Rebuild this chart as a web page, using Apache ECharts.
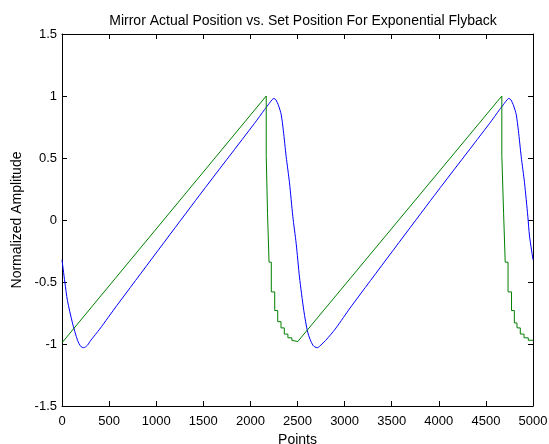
<!DOCTYPE html>
<html>
<head>
<meta charset="utf-8">
<script src="https://cdn.jsdelivr.net/npm/echarts@6/dist/echarts.min.js"></script>
<style>
html,body{margin:0;padding:0;background:#fff;}
#chart{width:549px;height:444px;}
</style>
</head>
<body>
<div id="chart"></div>
<script>
// Data: [point, normalized amplitude]
const actualPosition = [
  [0,-0.32],[30,-0.50],[58,-0.65],[111,-0.83],[165,-0.97],[200,-1.02],[230,-1.03],[270,-1.01],
  [306,-0.97],[400,-0.88],[582,-0.69],[1460,0.20],[2044,0.78],[2150,0.89],[2200,0.94],
  [2230,0.97],[2249,0.98],[2270,0.97],[2300,0.92],[2327,0.85],[2350,0.72],[2380,0.51],[2415,0.30],[2450,0.03],
  [2486,-0.19],[2521,-0.46],[2567,-0.73],[2610,-0.91],[2663,-1.01],[2709,-1.03],[2760,-1.00],
  [2800,-0.97],[2900,-0.88],[3077,-0.69],[3955,0.20],[4540,0.78],[4645,0.89],[4695,0.94],
  [4725,0.97],[4743,0.98],[4765,0.97],[4795,0.92],[4822,0.85],[4845,0.72],[4875,0.51],[4910,0.30],[4945,0.03],
  [4963,-0.13],[5000,-0.32]
];
const setPosition = [
  [0,-0.99],[2168,1.00],[2168,0.52],[2182,0.52],[2182,0.05],[2198,0.05],[2198,-0.34],
  [2222,-0.34],[2222,-0.58],[2258,-0.58],[2258,-0.73],[2290,-0.73],[2290,-0.82],[2325,-0.82],
  [2325,-0.87],[2360,-0.87],[2360,-0.92],[2398,-0.92],[2398,-0.95],[2440,-0.95],[2440,-0.97],
  [2503,-0.98],[2886,-0.63],[4669,1.00],[4669,0.52],[4688,0.52],[4688,0.05],[4705,0.05],
  [4705,-0.34],[4735,-0.34],[4735,-0.58],[4772,-0.58],[4772,-0.73],[4802,-0.73],[4802,-0.83],
  [4830,-0.83],[4830,-0.87],[4865,-0.87],[4865,-0.92],[4905,-0.92],[4905,-0.95],[4950,-0.95],
  [4950,-0.97],[5000,-0.97]
];
const xTicks = {min: 0, max: 5000, interval: 500};
const yTicks = {min: -1.5, max: 1.5, interval: 0.5};
const titleText = 'Mirror Actual Position vs. Set Position For Exponential Flyback';
const xLabel = 'Points';
const yLabel = 'Normalized Amplitude';

const font = "'Liberation Sans', Arial, Helvetica, sans-serif";
const chart = echarts.init(document.getElementById('chart'), null, {renderer: 'canvas'});
const lineStyle = {color: '#000', width: 1};
const tick = {show: true, inside: true, length: 5, lineStyle: {color: '#000', width: 1}};
const lbl = {color: '#000', fontSize: 13, fontFamily: font};
chart.setOption({
  animation: false,
  backgroundColor: '#fff',
  title: {
    text: titleText, left: 298, top: 9, textAlign: 'center',
    textStyle: {fontSize: 14, fontWeight: 'normal', color: '#000', fontFamily: font}
  },
  grid: {left: 62, right: 16, top: 34, bottom: 38, containLabel: false, outerBoundsMode: 'none'},
  xAxis: [
    {type: 'value', position: 'bottom', min: xTicks.min, max: xTicks.max, interval: xTicks.interval,
     name: xLabel, nameLocation: 'middle', nameGap: 25,
     nameTextStyle: {color: '#000', fontSize: 14, fontFamily: font},
     axisLine: {show: true, onZero: false, lineStyle: lineStyle}, axisTick: tick,
     axisLabel: Object.assign({margin: 9, formatter: v => String(v)}, lbl),
     splitLine: {show: false}},
    {type: 'value', position: 'top', min: xTicks.min, max: xTicks.max, interval: xTicks.interval,
     axisLine: {show: true, onZero: false, lineStyle: lineStyle}, axisTick: tick,
     axisLabel: {show: false}, splitLine: {show: false}}
  ],
  yAxis: [
    {type: 'value', position: 'left', min: yTicks.min, max: yTicks.max, interval: yTicks.interval,
     name: yLabel, nameLocation: 'middle', nameGap: 31,
     nameTextStyle: {color: '#000', fontSize: 14, fontFamily: font},
     axisLine: {show: true, onZero: false, lineStyle: lineStyle}, axisTick: tick,
     axisLabel: Object.assign({margin: 5, formatter: v => String(v)}, lbl),
     splitLine: {show: false}},
    {type: 'value', position: 'right', min: yTicks.min, max: yTicks.max, interval: yTicks.interval,
     axisLine: {show: true, onZero: false, lineStyle: lineStyle}, axisTick: tick,
     axisLabel: {show: false}, splitLine: {show: false}}
  ],
  series: [
    {name: 'Actual', type: 'line', data: actualPosition, showSymbol: false, symbol: 'none',
     smooth: 0.25, lineStyle: {color: '#0000ff', width: 1}, xAxisIndex: 0, yAxisIndex: 0, z: 2},
    {name: 'Set', type: 'line', data: setPosition, showSymbol: false, symbol: 'none',
     lineStyle: {color: '#008000', width: 1}, xAxisIndex: 0, yAxisIndex: 0, z: 3}
  ]
});
</script>
</body>
</html>
